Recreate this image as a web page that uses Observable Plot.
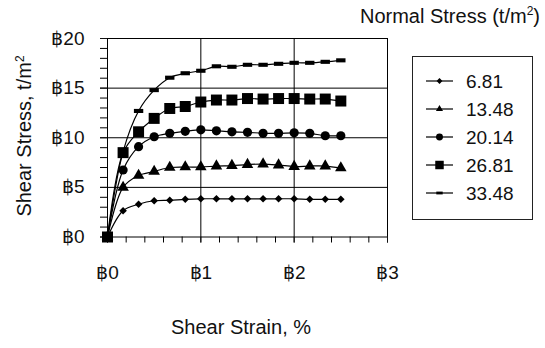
<!DOCTYPE html>
<html><head><meta charset="utf-8">
<script src="https://cdn.jsdelivr.net/npm/d3@7"></script>
<script src="https://cdn.jsdelivr.net/npm/@observablehq/plot@0.6"></script>
<style>
body{margin:0;background:#fff;font-family:"Liberation Sans",Arial,Helvetica,sans-serif;color:#111;}
#wrap{position:relative;width:545px;height:348px;overflow:hidden;}
#wrap svg.plot{position:absolute;left:0;top:0;}
.ttl{position:absolute;font-size:20px;white-space:nowrap;line-height:1;}
</style></head><body><div id="wrap"></div>
<script>
// ---- data ----
const strain = [0, 0.167, 0.333, 0.5, 0.667, 0.833, 1.0, 1.167, 1.333, 1.5, 1.667, 1.833, 2.0, 2.167, 2.333, 2.5];
const seriesNames = ["6.81", "13.48", "20.14", "26.81", "33.48"];
const s681  = [0, 2.65, 3.3, 3.65, 3.7, 3.8, 3.85, 3.85, 3.85, 3.85, 3.85, 3.85, 3.85, 3.8, 3.8, 3.8];
const s1348 = [0, 5.0, 6.2, 6.6, 7.0, 7.05, 7.05, 7.15, 7.2, 7.3, 7.35, 7.25, 7.1, 7.15, 7.15, 6.95];
const s2014 = [0, 6.75, 9.1, 10.1, 10.45, 10.65, 10.8, 10.7, 10.6, 10.55, 10.45, 10.45, 10.5, 10.45, 10.2, 10.2];
const s2681 = [0, 8.5, 10.6, 11.95, 12.95, 13.15, 13.6, 13.8, 13.8, 13.95, 13.9, 13.95, 13.95, 13.9, 13.9, 13.7];
const s3348 = [0, 8.6, 12.7, 14.8, 16.05, 16.5, 16.75, 17.2, 17.15, 17.35, 17.35, 17.45, 17.55, 17.55, 17.65, 17.8];
const xTicks = [0, 1, 2, 3];
const xMinorTicks = [0, 0.2, 0.4, 0.6, 0.8, 1, 1.2, 1.4, 1.6, 1.8, 2, 2.2, 2.4, 2.6, 2.8, 3];
const yTicks = [0, 5, 10, 15, 20];
const yMinorTicks = [0,1,2,3,4,5,6,7,8,9,10,11,12,13,14,15,16,17,18,19,20];
const xGrid = [1, 2];
const yGrid = [5, 10, 15];
const tickPrefix = "฿";
const xTitle = "Shear Strain, %";
const yTitleMain = "Shear Stress, t/m";
const legendTitleMain = "Normal Stress (t/m";

// ---- build ----
const values = [s681, s1348, s2014, s2681, s3348];
const dashSymbol = {draw(ctx, size){const s = Math.sqrt(size); ctx.rect(-0.8*s, -0.35*s, 1.6*s, 0.7*s);}};
const symbols = [d3.symbolDiamond2, d3.symbolTriangle, d3.symbolCircle, d3.symbolSquare, dashSymbol];
const plotSymbols = ["diamond2", "triangle", "circle", "square", dashSymbol];
const radii = [3.4, 4.3, 4.6, 6.2, 3.3];

const seriesData = seriesNames.map((name, i) => strain.map((x, j) => ({series: name, x, y: values[i][j]})));

const marks = [
  Plot.gridY(yGrid, {stroke: "#000", strokeOpacity: 1, strokeWidth: 1}),
  Plot.gridX(xGrid, {stroke: "#000", strokeOpacity: 1, strokeWidth: 1}),
  Plot.frame({stroke: "#000", strokeWidth: 1}),
  Plot.axisX(xMinorTicks, {tickSize: 6, tickFormat: () => "", label: null, stroke: "#000"}),
  Plot.axisX(xTicks, {tickSize: 6, tickPadding: 22, tickFormat: d => tickPrefix + d, label: null, fontSize: 19, fill: "#111"}),
  Plot.axisY(yMinorTicks, {tickSize: 7, tickFormat: () => "", label: null, stroke: "#000"}),
  Plot.axisY(yTicks, {tickSize: 7, tickPadding: 16, tickFormat: d => tickPrefix + d, label: null, fontSize: 19, fill: "#111"})
];
seriesData.forEach((data, i) => {
  marks.push(Plot.line(data, {x: "x", y: "y", stroke: "#000", strokeWidth: 1.2, curve: "catmull-rom"}));
  marks.push(Plot.dot(data, {x: "x", y: "y", symbol: plotSymbols[i], r: radii[i], fill: "#000", stroke: "none"}));
});

const chart = Plot.plot({
  width: 545, height: 348,
  marginLeft: 107, marginRight: 158, marginTop: 38, marginBottom: 111.5,
  x: {domain: [0, 3]},
  y: {domain: [0, 20]},
  style: {fontFamily: '"Liberation Sans", Arial, sans-serif', background: "#fff", color: "#111"},
  marks
});
chart.classList.add("plot");
const wrap = document.getElementById("wrap");
wrap.appendChild(chart);

// titles
const xt = document.createElement("div");
xt.className = "ttl"; xt.textContent = xTitle;
xt.style.left = "241px"; xt.style.top = "317px"; xt.style.transform = "translateX(-50%)";
wrap.appendChild(xt);

const yt = document.createElement("div");
yt.className = "ttl"; yt.innerHTML = yTitleMain + "<sup style='font-size:12px'>2</sup>";
yt.style.left = "24px"; yt.style.top = "136px"; yt.style.transform = "translate(-50%,-50%) rotate(-90deg)";
wrap.appendChild(yt);

const lt = document.createElement("div");
lt.className = "ttl"; lt.innerHTML = legendTitleMain + "<sup style='font-size:12px'>2</sup>)";
lt.style.right = "5px"; lt.style.top = "5px";
wrap.appendChild(lt);

// legend
const lw = 121, lh = 164;
const leg = d3.select(wrap).append("svg")
  .attr("width", lw).attr("height", lh)
  .style("position", "absolute").style("left", "412px").style("top", "56px");
leg.append("rect").attr("x", 0.5).attr("y", 0.5).attr("width", lw - 1).attr("height", lh - 1)
  .attr("fill", "#fff").attr("stroke", "#222");
const legSizes = [22, 22, 38, 72, 16];
seriesNames.forEach((name, i) => {
  const cy = 25 + i * 28;
  leg.append("line").attr("x1", 14).attr("x2", 41).attr("y1", cy).attr("y2", cy).attr("stroke", "#000").attr("stroke-width", 1.2);
  leg.append("path").attr("transform", `translate(27.5,${cy})`).attr("d", d3.symbol(symbols[i], legSizes[i])()).attr("fill", "#000");
  leg.append("text").attr("x", 54).attr("y", cy).attr("dy", "0.35em").attr("font-size", 19)
    .attr("font-family", '"Liberation Sans", Arial, sans-serif').attr("fill", "#111").text(name);
});
</script>
</body></html>
